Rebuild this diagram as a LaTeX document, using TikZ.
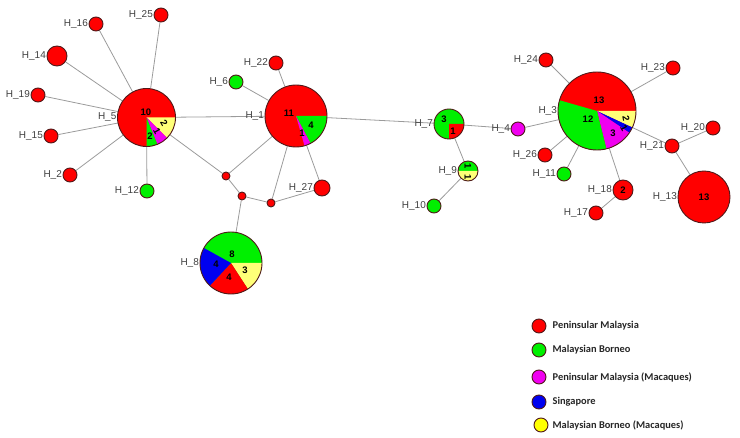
\documentclass[tikz,border=0pt]{standalone}
\usepackage{fontspec}
\setmainfont{Liberation Sans}
\newfontfamily\legfont{Carlito}
\usetikzlibrary{positioning, backgrounds}

\definecolor{pmred}{RGB}{255,0,0}
\definecolor{mbgreen}{RGB}{0,240,0}
\definecolor{pmmag}{RGB}{240,0,240}
\definecolor{sgblue}{RGB}{0,0,240}
\definecolor{mbyellow}{RGB}{255,255,120}
\definecolor{legyellow}{RGB}{255,255,0}
\definecolor{edgegray}{RGB}{155,155,155}
\definecolor{rimcol}{RGB}{80,25,25}

% one wedge of a pie node, used inside path picture
\newcommand{\slicefill}[3]{\fill[#3] (path picture bounding box.center) -- ++(#1:80) arc (#1:#2:80) -- cycle;}

\tikzset{
  hap/.style={circle, draw=rimcol, line width=0.9pt, inner sep=0pt, minimum size=#1},
  hap/.default=14pt,
  hlab/.style={font=\fontsize{10}{11}\selectfont, text=black!75, inner sep=0.5pt},
  cnt/.style={font=\bfseries\fontsize{9.5}{10}\selectfont, inner sep=0pt},
  link/.style={draw=edgegray, line width=0.8pt},
  legtext/.style={font=\legfont\bfseries\fontsize{10.4}{11}\selectfont, text=black!85, inner sep=0pt, anchor=west},
}

\begin{document}
\begin{tikzpicture}[x=1pt, y=-1pt]
  \useasboundingbox (0,0) rectangle (740,438);

  % left star
  \node[hap=58pt, fill=pmred, label={[hlab]left:H\_5},
        path picture={\slicefill{0}{45}{mbyellow}\slicefill{45}{68}{pmmag}\slicefill{68}{90}{mbgreen}}] (h5) at (146.5,117.5) {};
  \node[hap, fill=pmred, label={[hlab]left:H\_16}] (h16) at (96,24) {};
  \node[hap, fill=pmred, label={[hlab]left:H\_25}] (h25) at (161,15) {};
  \node[hap=20pt, fill=pmred, label={[hlab]left:H\_14}] (h14) at (57,56) {};
  \node[hap, fill=pmred, label={[hlab]left:H\_19}] (h19) at (38,95) {};
  \node[hap, fill=pmred, label={[hlab]left:H\_15}] (h15) at (51,136) {};
  \node[hap, fill=pmred, label={[hlab]left:H\_2}] (h2) at (70,175) {};
  \node[hap, fill=mbgreen, label={[hlab]left:H\_12}] (h12) at (147,191) {};

  % middle star
  \node[hap=62pt, fill=pmred, label={[hlab]left:H\_1},
        path picture={\slicefill{0}{62}{mbgreen}\slicefill{62}{74}{pmmag}}] (h1) at (296,116) {};
  \node[hap, fill=mbgreen, label={[hlab]left:H\_6}] (h6) at (236,82) {};
  \node[hap, fill=pmred, label={[hlab]left:H\_22}] (h22) at (276,63) {};
  \node[hap=16pt, fill=pmred, label={[hlab]left:H\_27}] (h27) at (322,188) {};
  \node[hap=8pt, fill=pmred] (m1) at (226,176) {};
  \node[hap=8pt, fill=pmred] (m2) at (242,196) {};
  \node[hap=8pt, fill=pmred] (m3) at (271,203) {};
  \node[hap=62pt, fill=mbgreen, label={[hlab]left:H\_8},
        path picture={\slicefill{0}{57}{mbyellow}\slicefill{57}{133}{pmred}\slicefill{133}{209}{sgblue}}] (h8) at (231,263) {};

  % H_7 group
  \node[hap=30pt, fill=mbgreen, label={[hlab]left:H\_7},
        path picture={\slicefill{0}{90}{pmred}}] (h7) at (449,124) {};
  \node[hap=20pt, fill=mbgreen, label={[hlab]left:H\_9},
        path picture={\slicefill{0}{180}{mbyellow}}] (h9) at (468,171) {};
  \node[hap, fill=mbgreen, label={[hlab]left:H\_10}] (h10) at (434,206) {};
  \node[hap, fill=pmmag, label={[hlab]left:H\_4}] (h4) at (518,129) {};

  % right star
  \node[hap=78pt, fill=pmred, label={[hlab]left:H\_3},
        path picture={\slicefill{0}{25}{mbyellow}\slicefill{25}{34}{sgblue}\slicefill{34}{76}{pmmag}\slicefill{76}{196}{mbgreen}}] (h3) at (597,111) {};
  \node[hap, fill=pmred, label={[hlab]left:H\_24}] (h24) at (546,60) {};
  \node[hap, fill=pmred, label={[hlab]left:H\_23}] (h23) at (673,68) {};
  \node[hap, fill=pmred, label={[hlab]left:H\_26}] (h26) at (545,155) {};
  \node[hap, fill=mbgreen, label={[hlab]left:H\_11}] (h11) at (564,174) {};
  \node[hap=20pt, fill=pmred, label={[hlab]left:H\_18}] (h18) at (623,190) {};
  \node[hap, fill=pmred, label={[hlab]left:H\_17}] (h17) at (596,213) {};
  \node[hap, fill=pmred, label={[hlab]left:H\_21}] (h21) at (672,146) {};
  \node[hap, fill=pmred, label={[hlab]left:H\_20}] (h20) at (713,128) {};
  \node[hap=52pt, fill=pmred, label={[hlab]left:H\_13}] (h13) at (704,197) {};

  % counts
  \node[cnt] (c5a) at (146,112) {10};
  \node[cnt, rotate=-60] (c5b) at (164,123) {2};
  \node[cnt, rotate=-60] (c5c) at (157,131) {1};
  \node[cnt] (c5d) at (150,136) {2};
  \node[cnt] (c1a) at (289,113) {11};
  \node[cnt] (c1b) at (311,125) {4};
  \node[cnt] (c1c) at (302,133) {1};
  \node[cnt] (c8a) at (232,254) {8};
  \node[cnt] (c8b) at (216,264) {4};
  \node[cnt] (c8c) at (229,277) {4};
  \node[cnt] (c8d) at (245,270) {3};
  \node[cnt] (c7a) at (444,119) {3};
  \node[cnt] (c7b) at (453,131) {1};
  \node[cnt, rotate=-90] (c9a) at (468,166) {1};
  \node[cnt, rotate=-90] (c9b) at (468,177) {1};
  \node[cnt] (c3a) at (599,100) {13};
  \node[cnt] (c3b) at (588,119) {12};
  \node[cnt] (c3c) at (613,133) {3};
  \node[cnt, rotate=-80] (c3d) at (626,119) {2};
  \node[cnt, rotate=-60] (c3e) at (624,128) {1};
  \node[cnt] (c18) at (623,190) {2};
  \node[cnt] (c13) at (704,197) {13};

  % connectors
  \begin{scope}[on background layer]
    \foreach \leaf in {h16,h25,h14,h19,h15,h2,h12,h1,m1}
      \draw[link] (h5) -- (\leaf);
    \foreach \leaf in {h6,h22,h27,m1,m3,h7}
      \draw[link] (h1) -- (\leaf);
    \draw[link] (m1) -- (m2);
    \draw[link] (m2) -- (m3);
    \draw[link] (m2) -- (h8);
    \draw[link] (m3) -- (h27);
    \draw[link] (h7) -- (h4);
    \draw[link] (h7) -- (h9);
    \draw[link] (h9) -- (h10);
    \foreach \leaf in {h4,h24,h23,h26,h11,h18,h21}
      \draw[link] (h3) -- (\leaf);
    \draw[link] (h18) -- (h17);
    \draw[link] (h21) -- (h20);
    \draw[link] (h21) -- (h13);
  \end{scope}

  % legend
  \node[hap, fill=pmred] (lg1) at (539,326) {};
  \node[hap, fill=mbgreen] (lg2) at (539,350) {};
  \node[hap, fill=pmmag] (lg3) at (539,377) {};
  \node[hap, fill=sgblue] (lg4) at (539,402) {};
  \node[hap, fill=legyellow] (lg5) at (541,425) {};
  \node[legtext, right=6pt of lg1] (lt1) {Peninsular Malaysia};
  \node[legtext, right=6pt of lg2] (lt2) {Malaysian Borneo};
  \node[legtext, right=6pt of lg3] (lt3) {Peninsular Malaysia (Macaques)};
  \node[legtext, right=6pt of lg4] (lt4) {Singapore};
  \node[legtext, right=4pt of lg5] (lt5) {Malaysian Borneo (Macaques)};
\end{tikzpicture}
\end{document}
